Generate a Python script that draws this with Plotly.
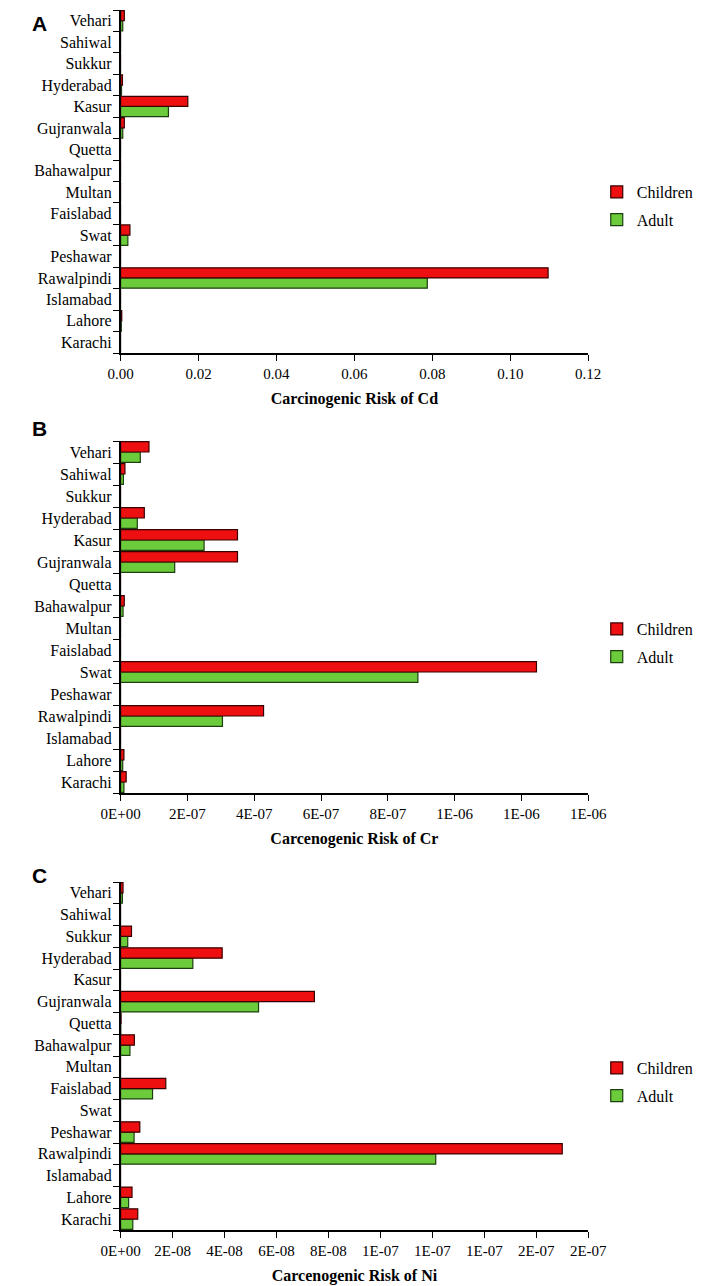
# Karzinogenes Risiko (Cd, Cr, Ni) fuer Kinder und Erwachsene, drei Balkendiagramme untereinander
import plotly.graph_objects as go

cities = ['Karachi', 'Lahore', 'Islamabad', 'Rawalpindi', 'Peshawar', 'Swat', 'Faislabad',
          'Multan', 'Bahawalpur', 'Quetta', 'Gujranwala', 'Kasur', 'Hyderabad', 'Sukkur',
          'Sahiwal', 'Vehari']

# Cd
cd_children = [0, 0.0003, 0, 0.1097, 0, 0.0024, 0, 0, 0, 0, 0.00096, 0.01725, 0.00048, 0, 0, 0.00096]
cd_adult = [0, 0.0002, 0, 0.0787, 0, 0.00186, 0, 0, 0, 0, 0.00056, 0.01228, 0.00024, 0, 0, 0.00056]

# Cr
cr_children = [1.67e-8, 1.0e-8, 0, 4.28e-7, 0, 1.245e-6, 0, 0, 1.1e-8, 0, 3.5e-7, 3.5e-7, 7.1e-8, 0, 1.3e-8, 8.5e-8]
cr_adult = [1.0e-8, 6.4e-9, 0, 3.05e-7, 0, 8.9e-7, 0, 0, 7.4e-9, 0, 1.62e-7, 2.5e-7, 5.0e-8, 0, 8.5e-9, 5.9e-8]

# Ni
ni_children = [6.6e-9, 4.4e-9, 0, 1.70e-7, 7.4e-9, 0, 1.74e-8, 0, 5.3e-9, 2e-10, 7.46e-8, 0, 3.91e-8, 4.2e-9, 0, 9.4e-10]
ni_adult = [4.7e-9, 3.1e-9, 0, 1.213e-7, 5.2e-9, 0, 1.23e-8, 0, 3.6e-9, 1e-10, 5.31e-8, 0, 2.78e-8, 2.75e-9, 0, 7e-10]

# Achsenbeschriftungen
cd_ticks = [0, 0.02, 0.04, 0.06, 0.08, 0.10, 0.12]
cr_ticks = [0, 2e-7, 4e-7, 6e-7, 8e-7, 1.0e-6, 1.2e-6, 1.4e-6]
cr_ticktext = ['0E+00', '2E-07', '4E-07', '6E-07', '8E-07', '1E-06', '1E-06', '1E-06']
ni_ticks = [0, 2e-8, 4e-8, 6e-8, 8e-8, 1.0e-7, 1.2e-7, 1.4e-7, 1.6e-7, 1.8e-7]
ni_ticktext = ['0E+00', '2E-08', '4E-08', '6E-08', '8E-08', '1E-07', '1E-07', '1E-07', '2E-07', '2E-07']

titles = ['Carcinogenic Risk of Cd', 'Carcenogenic Risk of Cr', 'Carcenogenic Risk of Ni']
panels = ['A', 'B', 'C']

W, H = 706, 1286
RED, RED_LINE = '#EE1010', '#3A0000'
GREEN, GREEN_LINE = '#6CCB3A', '#1C3F10'
SERIF = 'Liberation Serif'

data = [(cd_children, cd_adult), (cr_children, cr_adult), (ni_children, ni_adult)]
# Pixelbereiche der Plotflaechen (oben, unten) und Legendenposition
rows_px = [(2, 345), (433, 785), (874, 1222)]
legend_px = [167, 604, 1043]
x_px = (98, 593)

fig = go.Figure()

for i, (child, adult) in enumerate(data):
    n = '' if i == 0 else str(i + 1)
    lg = 'legend' + n
    # Adult zuerst, damit Children oben liegt
    fig.add_trace(go.Bar(
        y=cities, x=adult, orientation='h', name='Adult', legendrank=2,
        marker=dict(color=GREEN, line=dict(color=GREEN_LINE, width=1.2)),
        xaxis='x' + n, yaxis='y' + n, legend=lg, legendgroup='a' + n))
    fig.add_trace(go.Bar(
        y=cities, x=child, orientation='h', name='Children', legendrank=1,
        marker=dict(color=RED, line=dict(color=RED_LINE, width=1.2)),
        xaxis='x' + n, yaxis='y' + n, legend=lg, legendgroup='c' + n))

layout = dict(
    width=W, height=H,
    margin=dict(l=0, r=0, t=0, b=0),
    paper_bgcolor='white', plot_bgcolor='white',
    barmode='group', bargap=0.05, bargroupgap=0,
    font=dict(family=SERIF, size=16, color='black'),
)

xranges = [[0, 0.12], [0, 1.4e-6], [0, 1.8e-7]]
for i in range(3):
    n = '' if i == 0 else str(i + 1)
    top, bot = rows_px[i]
    xa = dict(
        domain=[x_px[0] / W, x_px[1] / W], anchor='y' + n, range=xranges[i],
        showline=True, linecolor='black', linewidth=1.5,
        ticks='outside', ticklen=6, tickcolor='black', showgrid=False, zeroline=False,
        tickfont=dict(family=SERIF, size=15),
        title=dict(text='<b>' + titles[i] + '</b>', standoff=12,
                   font=dict(family=SERIF, size=16)),
    )
    if i == 0:
        xa.update(tickvals=cd_ticks, tickformat='.2f')
    elif i == 1:
        xa.update(tickvals=cr_ticks, ticktext=cr_ticktext)
    else:
        xa.update(tickvals=ni_ticks, ticktext=ni_ticktext)
    ya = dict(
        domain=[1 - bot / H, 1 - top / H], anchor='x' + n,
        type='category', categoryorder='array', categoryarray=cities,
        showline=True, linecolor='black', linewidth=1.5,
        ticks='outside', ticklen=6, tickcolor='black', tickson='boundaries',
        showgrid=False, tickfont=dict(family=SERIF, size=16), ticklabelstandoff=4,
    )
    layout['xaxis' + n] = xa
    layout['yaxis' + n] = ya
    layout['legend' + n] = dict(
        x=602 / W, xanchor='left', y=1 - legend_px[i] / H, yanchor='top',
        traceorder='grouped', tracegroupgap=4, itemwidth=30,
        font=dict(family=SERIF, size=16), bgcolor='rgba(0,0,0,0)')

fig.update_layout(**layout)

# Panel-Buchstaben
for letter, ypx in zip(panels, [15, 421, 867]):
    fig.add_annotation(text='<b>' + letter + '</b>', xref='paper', yref='paper',
                       x=12 / W, y=1 - ypx / H, xanchor='center', yanchor='middle',
                       showarrow=False, font=dict(family='Liberation Sans', size=21, color='black'))

fig.write_html("out.html")
